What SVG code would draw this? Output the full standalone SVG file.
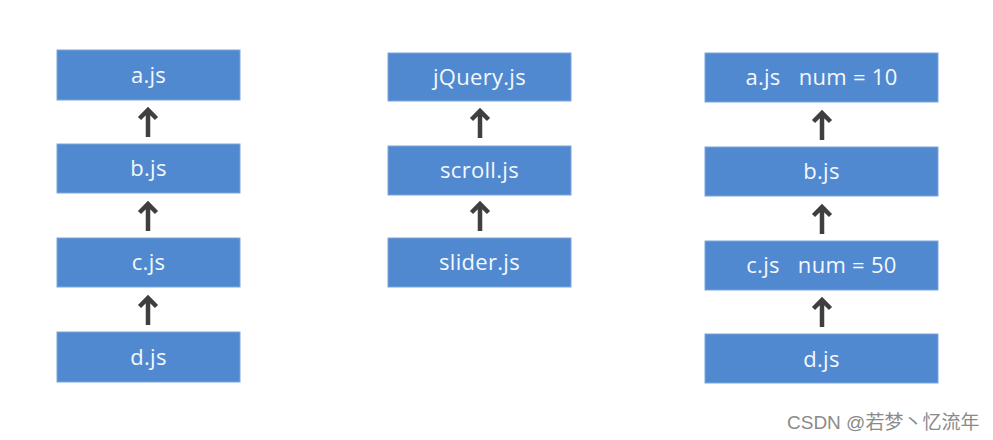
<svg xmlns="http://www.w3.org/2000/svg" width="993" height="440" viewBox="0 0 993 440">
<style>
.box{fill:#5089d0;stroke:#7aa6dc;stroke-width:1}
.t{font-family:"Open Sans","Noto Sans","Liberation Sans",sans-serif;font-size:22px;fill:#f4f8fd;text-anchor:middle;letter-spacing:0.3px}
.a{fill:none;stroke:#3f3f3f;stroke-width:4.5;stroke-linecap:butt;stroke-linejoin:miter}
.wm{font-family:"Liberation Sans","Noto Sans CJK SC",sans-serif;font-size:19px;fill:#8a8a8a}
</style>
<defs>
<path id="arr" d="M0,0 V-27 M-8.5,-18.5 L0,-27 L8.5,-18.5"/>
</defs>
<rect width="993" height="440" fill="#ffffff"/>
<g id="n_a1"><rect class="box" x="57" y="50" width="183" height="50"/><text class="t" x="148.5" y="83">a.js</text></g>
<g id="n_b1"><rect class="box" x="57" y="144" width="183" height="49"/><text class="t" x="148.5" y="176">b.js</text></g>
<g id="n_c1"><rect class="box" x="57" y="238" width="183" height="49"/><text class="t" x="148.5" y="270">c.js</text></g>
<g id="n_d1"><rect class="box" x="57" y="332" width="183" height="50"/><text class="t" x="148.5" y="365">d.js</text></g>
<g id="n_jq"><rect class="box" x="388" y="53" width="183" height="48"/><text class="t" x="479.5" y="85">jQuery.js</text></g>
<g id="n_scroll"><rect class="box" x="388" y="146" width="183" height="49"/><text class="t" x="479.5" y="178">scroll.js</text></g>
<g id="n_slider"><rect class="box" x="388" y="238" width="183" height="49"/><text class="t" x="479.5" y="270">slider.js</text></g>
<g id="n_a3"><rect class="box" x="705" y="53" width="233" height="49"/><text class="t" x="821.5" y="85" xml:space="preserve">a.js   num = 10</text></g>
<g id="n_b3"><rect class="box" x="705" y="147" width="233" height="49"/><text class="t" x="821.5" y="179">b.js</text></g>
<g id="n_c3"><rect class="box" x="705" y="241" width="233" height="49"/><text class="t" x="821.5" y="273" xml:space="preserve">c.js   num = 50</text></g>
<g id="n_d3"><rect class="box" x="705" y="334" width="233" height="49"/><text class="t" x="821.5" y="367">d.js</text></g>
<g id="connectors">
<use href="#arr" class="a" x="148" y="137"/>
<use href="#arr" class="a" x="148" y="231"/>
<use href="#arr" class="a" x="148" y="325"/>
<use href="#arr" class="a" x="480" y="138"/>
<use href="#arr" class="a" x="480" y="231"/>
<use href="#arr" class="a" x="822" y="140"/>
<use href="#arr" class="a" x="822" y="234"/>
<use href="#arr" class="a" x="822" y="327"/>
</g>
<text class="wm" x="787" y="429">CSDN @若梦丶忆流年</text>
</svg>
